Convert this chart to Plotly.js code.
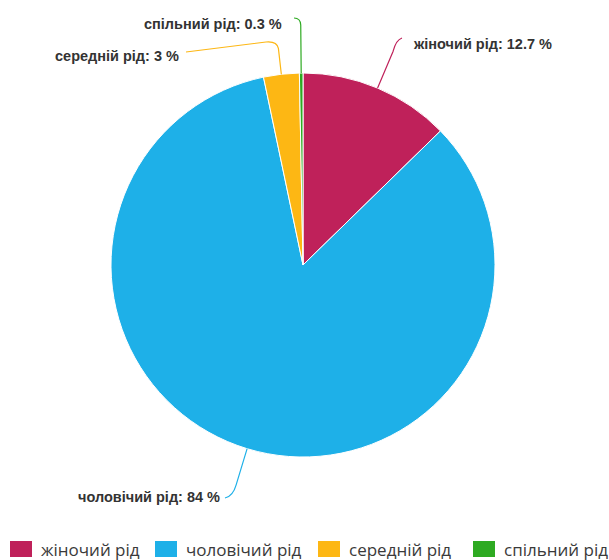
<!DOCTYPE html>
<html>
<head>
<meta charset="utf-8">
<script src="https://cdn.plot.ly/plotly-3.0.1.min.js"></script>
<style>html,body{margin:0;padding:0;background:#fff;}#chart{width:609px;height:560px;}</style>
</head>
<body>
<div id="chart"></div>
<script>
// ---- data ----
const categories = ["жіночий рід", "чоловічий рід", "середній рід", "спільний рід"];
const values = [12.7, 84, 3, 0.3];
const valueLabels = ["12.7 %", "84 %", "3 %", "0.3 %"];
const colors = ["#BF215A", "#1EB0E8", "#FDB714", "#2EAA22"];

// ---- layout geometry (pixels) ----
const W = 609, H = 560;
const CX = 303, CY = 265, R = 192;
const px = x => x / W;
const py = y => 1 - y / H;

// leader geometry per slice: radial extension, quad control, end, optional tail
const leaders = [
  {ext: 40, q: [396, 40, 402, 38], tail: null, lx: 411, ly: 44, anchor: 'left'},
  {ext: 38, q: [233, 496, 225, 498], tail: null, lx: 222, ly: 497, anchor: 'right'},
  {ext: 26, q: [277, 41, 266, 42], tail: [186, 52], lx: 181, ly: 56, anchor: 'right'},
  {ext: 48, q: [300.5, 18, 294, 18], tail: null, lx: 284, ly: 24, anchor: 'right'}
];
const legendSquareX = [10, 155, 318, 473];
const legendY = 549;

const total = values.reduce((a, b) => a + b, 0);
let cum = 0;
const shapes = [], annotations = [];
values.forEach((v, i) => {
  const mid = (cum + v / 2) / total * 2 * Math.PI; // clockwise from top
  cum += v;
  const s = Math.sin(mid), c = Math.cos(mid);
  const S = [CX + R * s, CY - R * c];
  const L = leaders[i];
  const P1 = [CX + (R + L.ext) * s, CY - (R + L.ext) * c];
  let path = `M${px(S[0])},${py(S[1])} L${px(P1[0])},${py(P1[1])} Q${px(L.q[0])},${py(L.q[1])} ${px(L.q[2])},${py(L.q[3])}`;
  if (L.tail) path += ` L${px(L.tail[0])},${py(L.tail[1])}`;
  shapes.push({type: 'path', xref: 'paper', yref: 'paper', path: path,
    line: {color: colors[i], width: 1.2}, layer: 'above'});
  annotations.push({xref: 'paper', yref: 'paper', x: px(L.lx), y: py(L.ly),
    xanchor: L.anchor, yanchor: 'middle', showarrow: false,
    text: '<b>' + categories[i] + ': ' + valueLabels[i] + '</b>',
    font: {family: 'Liberation Sans, Arial, sans-serif', size: 14.5, color: '#333'}});
  // custom legend
  const lx = legendSquareX[i];
  shapes.push({type: 'rect', xref: 'paper', yref: 'paper',
    x0: px(lx), x1: px(lx + 22), y0: py(legendY + 8), y1: py(legendY - 8),
    fillcolor: colors[i], line: {width: 0}});
  annotations.push({xref: 'paper', yref: 'paper', x: px(lx + 29), y: py(legendY),
    xanchor: 'left', yanchor: 'middle', showarrow: false, text: categories[i],
    font: {family: 'Open Sans, sans-serif', size: 17, color: '#3a3a3a'}});
});

const trace = {
  type: 'pie', labels: categories, values: values, sort: false,
  direction: 'clockwise', rotation: 0, textinfo: 'none', hoverinfo: 'label+percent',
  marker: {colors: colors, line: {color: '#fff', width: 1}},
  domain: {x: [px(CX - R), px(CX + R)], y: [py(CY + R), py(CY - R)]}
};

Plotly.newPlot('chart', [trace], {
  width: W, height: H, margin: {l: 0, r: 0, t: 0, b: 0},
  showlegend: false, paper_bgcolor: '#fff',
  shapes: shapes, annotations: annotations
}, {displayModeBar: false, staticPlot: true});
</script>
</body>
</html>
